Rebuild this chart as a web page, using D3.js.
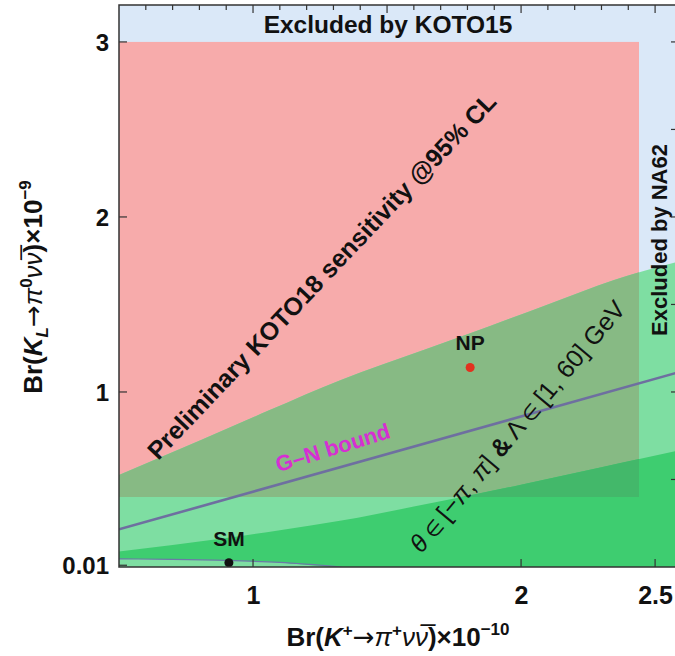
<!DOCTYPE html>
<html>
<head>
<meta charset="utf-8">
<script src="https://cdn.jsdelivr.net/npm/d3@7"></script>
<style>
  html, body { margin: 0; padding: 0; background: #ffffff; }
  svg { display: block; }
  text { font-family: "Liberation Sans", Arial, Helvetica, sans-serif; }
</style>
</head>
<body>
<svg id="chart" width="675" height="656"></svg>
<script>
// Br(K+ -> pi+ nu nubar) in units of 1e-10 (x) vs Br(K_L -> pi0 nu nubar) in units of 1e-9 (y)

// axis ticks
const xTickLabels = [1, 2, 2.5];
const yTickLabels = [0.01, 1, 2, 3];

// KOTO18 preliminary sensitivity box (K+ range, K_L range)
const koto18Kplus = [0.5, 2.44];
const koto18KL = [0.4, 3.0];

// outer allowed region (theta in [-pi, pi], Lambda in [1, 60] GeV): upper edge
const outerK = [0.5, 0.806, 1.06, 1.328, 1.478, 1.8, 2.1, 2.347, 2.6];
const outerTop = [0.526, 0.726, 0.895, 1.069, 1.154, 1.33, 1.5, 1.64, 1.75];

// inner band
const bandK = [0.5, 0.7, 0.9, 1.1, 1.33, 1.6, 2.0, 2.3, 2.6];
const bandTop = [0.088, 0.125, 0.165, 0.21, 0.265, 0.345, 0.47, 0.57, 0.67];
const bandBottom = [0.046, 0.044, 0.038, 0.026, 0.0, 0.0, 0.0, 0.0, 0.0];

// Grossman–Nir bound, Br(K_L) = 4.3 Br(K+)
const gnK = [0.5, 2.6];
const gnKL = [0.215, 1.118];

// benchmark points
const pointNames = ["SM", "NP"];
const pointK = [0.91, 1.81];
const pointKL = [0.024, 1.14];

const svg = d3.select("#chart");
const frame = { left: 119, right: 676, top: 5, bottom: 567 };

const x = d3.scaleLinear().domain([0.5, 2.578]).range([frame.left, frame.right]);
const y = d3.scaleLinear().domain([0, 3.211]).range([frame.bottom, frame.top]);

const defs = svg.append("defs");
defs.append("clipPath").attr("id", "clip-frame")
  .append("rect")
  .attr("x", frame.left).attr("y", frame.top)
  .attr("width", frame.right - frame.left).attr("height", frame.bottom - frame.top);
defs.append("clipPath").attr("id", "clip-koto")
  .append("rect")
  .attr("x", x(koto18Kplus[0])).attr("y", y(koto18KL[1]))
  .attr("width", x(koto18Kplus[1]) - x(koto18Kplus[0]))
  .attr("height", y(koto18KL[0]) - y(koto18KL[1]));

const plot = svg.append("g").attr("clip-path", "url(#clip-frame)");

// excluded background
plot.append("rect")
  .attr("x", frame.left).attr("y", frame.top)
  .attr("width", frame.right - frame.left).attr("height", frame.bottom - frame.top)
  .attr("fill", "#dae8f8");

// KOTO18 sensitivity
plot.append("rect")
  .attr("x", x(koto18Kplus[0])).attr("y", y(koto18KL[1]))
  .attr("width", x(koto18Kplus[1]) - x(koto18Kplus[0]))
  .attr("height", y(koto18KL[0]) - y(koto18KL[1]))
  .attr("fill", "#f7abab");

const outerArea = d3.area()
  .x((d, i) => x(outerK[i]))
  .y0(() => y(0))
  .y1((d, i) => y(outerTop[i]))
  .curve(d3.curveMonotoneX);

const bandArea = d3.area()
  .x((d, i) => x(bandK[i]))
  .y0((d, i) => y(bandBottom[i]))
  .y1((d, i) => y(bandTop[i]))
  .curve(d3.curveMonotoneX);

plot.append("path").attr("d", outerArea(outerK)).attr("fill", "#7edea2");
plot.append("path").attr("d", outerArea(outerK)).attr("fill", "#87ba84")
  .attr("clip-path", "url(#clip-koto)");

plot.append("path").attr("d", bandArea(bandK)).attr("fill", "#3ecd70");
plot.append("path").attr("d", bandArea(bandK)).attr("fill", "#43b86a")
  .attr("clip-path", "url(#clip-koto)");

// lower edge of the band
const edgeIdx = d3.range(0, 5);
plot.append("path")
  .attr("d", d3.line()
    .x(i => x(bandK[i]))
    .y(i => y(bandBottom[i]))
    .curve(d3.curveMonotoneX)(edgeIdx))
  .attr("fill", "none").attr("stroke", "#6a7aa6").attr("stroke-width", 1.2);

// Grossman–Nir bound line
plot.append("path")
  .attr("d", d3.line().x((d, i) => x(gnK[i])).y((d, i) => y(gnKL[i]))(gnK))
  .attr("fill", "none").attr("stroke", "#6e6fa0").attr("stroke-width", 2.6);

// benchmark points
const pointColors = ["#111111", "#e2321f"];
pointNames.forEach((n, i) => {
  plot.append("circle")
    .attr("cx", x(pointK[i])).attr("cy", y(pointKL[i])).attr("r", 4.5)
    .attr("fill", pointColors[i]);
  svg.append("text")
    .attr("x", x(pointK[i])).attr("y", y(pointKL[i]) - 17)
    .attr("text-anchor", "middle")
    .attr("font-size", 21).attr("font-weight", "bold").attr("fill", "#111")
    .text(n);
});

// region labels
svg.append("text")
  .attr("x", 388).attr("y", 33)
  .attr("text-anchor", "middle")
  .attr("font-size", 24.5).attr("font-weight", "bold").attr("fill", "#111")
  .text("Excluded by KOTO15");

svg.append("text")
  .attr("transform", "translate(667,240) rotate(-90)")
  .attr("text-anchor", "middle")
  .attr("font-size", 22).attr("font-weight", "bold").attr("fill", "#111")
  .text("Excluded by NA62");

svg.append("text")
  .attr("transform", "translate(328,282) rotate(-46.5)")
  .attr("text-anchor", "middle")
  .attr("font-size", 25).attr("font-weight", "bold").attr("fill", "#111")
  .text("Preliminary KOTO18 sensitivity @95% CL");

svg.append("text")
  .attr("transform", "translate(335,455) rotate(-17)")
  .attr("text-anchor", "middle")
  .attr("font-size", 22).attr("font-weight", "bold").attr("fill", "#d62fd2")
  .text("G\u2013N bound");

const scan = svg.append("text")
  .attr("transform", "translate(524,432) rotate(-50)")
  .attr("text-anchor", "middle")
  .attr("font-size", 25).attr("fill", "#111");
scan.append("tspan").attr("font-style", "italic").text("\u03b8");
scan.append("tspan").attr("font-size", 20).text(" \u2208 ");
scan.append("tspan").text("[\u2212");
scan.append("tspan").attr("font-style", "italic").text("\u03c0");
scan.append("tspan").text(", ");
scan.append("tspan").attr("font-style", "italic").text("\u03c0");
scan.append("tspan").text("] ");
scan.append("tspan").attr("font-weight", "bold").text("&");
scan.append("tspan").text(" \u039b");
scan.append("tspan").attr("font-size", 20).text(" \u2208 ");
scan.append("tspan").text("[1, 60] GeV");

// axes
const xAxisBottom = d3.axisBottom(x).tickValues(xTickLabels).tickSize(0).tickPadding(0)
  .tickFormat(d3.format("~g"));
const gx = svg.append("g").attr("transform", `translate(0,${frame.bottom})`).call(xAxisBottom);
gx.select(".domain").remove();
gx.selectAll("text").attr("dy", null).attr("y", 37)
  .attr("font-size", 25).attr("font-weight", "bold").attr("fill", "#111")
  .attr("font-family", "Liberation Sans, Arial, sans-serif");

const yAxisLeft = d3.axisLeft(y).tickValues(yTickLabels).tickSize(0).tickPadding(0)
  .tickFormat(d => d === 0.01 ? "0.01" : d3.format("~g")(d));
const gy = svg.append("g").attr("transform", `translate(${frame.left},0)`).call(yAxisLeft);
gy.select(".domain").remove();
gy.selectAll("text").attr("x", -10).attr("dy", "0.36em")
  .attr("font-size", 24).attr("font-weight", "bold").attr("fill", "#111")
  .attr("font-family", "Liberation Sans, Arial, sans-serif");

// tick marks drawn inside the frame
const tickG = svg.append("g").attr("stroke", "#333").attr("stroke-width", 1.2);
const minorX = d3.range(6, 26).map(v => v / 10);
minorX.forEach(v => {
  const major = Math.abs(v * 2 - Math.round(v * 2)) < 1e-9;
  tickG.append("line")
    .attr("x1", x(v)).attr("x2", x(v))
    .attr("y1", frame.top).attr("y2", frame.top + (major ? 8 : 5));
});
xTickLabels.forEach(v => {
  tickG.append("line").attr("x1", x(v)).attr("x2", x(v))
    .attr("y1", frame.bottom).attr("y2", frame.bottom - 8);
});
yTickLabels.forEach(v => {
  tickG.append("line").attr("x1", frame.left).attr("x2", frame.left + 8)
    .attr("y1", y(v)).attr("y2", y(v));
});
d3.range(1, 7).map(v => v / 2).forEach(v => {
  tickG.append("line").attr("x1", frame.right).attr("x2", frame.right - 5)
    .attr("y1", y(v)).attr("y2", y(v));
});

// frame
svg.append("rect")
  .attr("x", frame.left).attr("y", frame.top)
  .attr("width", frame.right - frame.left).attr("height", frame.bottom - frame.top)
  .attr("fill", "none").attr("stroke", "#333").attr("stroke-width", 1.5);

// axis titles
const xt = svg.append("text")
  .attr("x", 398).attr("y", 646)
  .attr("text-anchor", "middle")
  .attr("font-size", 26).attr("font-weight", "bold").attr("fill", "#111");
xt.append("tspan").text("Br(");
xt.append("tspan").attr("font-style", "italic").text("K");
xt.append("tspan").attr("font-size", 17).attr("dy", -10).text("+");
xt.append("tspan").attr("dy", 10).attr("font-family", "DejaVu Sans").attr("font-weight", "normal").text("\u2192");
xt.append("tspan").attr("font-style", "italic").attr("font-weight", "normal").text("\u03c0");
xt.append("tspan").attr("font-size", 17).attr("dy", -10).text("+");
xt.append("tspan").attr("dy", 10).attr("font-style", "italic").attr("font-weight", "normal").text("\u03bd\u03bd\u0305");
xt.append("tspan").text(")\u00d710");
xt.append("tspan").attr("font-size", 17).attr("dy", -11).text("\u221210");

const yt = svg.append("text")
  .attr("transform", "translate(42,287) rotate(-90)")
  .attr("text-anchor", "middle")
  .attr("font-size", 26).attr("font-weight", "bold").attr("fill", "#111");
yt.append("tspan").text("Br(");
yt.append("tspan").attr("font-style", "italic").text("K");
yt.append("tspan").attr("font-size", 17).attr("dy", 6).attr("font-style", "italic").text("L");
yt.append("tspan").attr("dy", -6).attr("font-family", "DejaVu Sans").attr("font-weight", "normal").text("\u2192");
yt.append("tspan").attr("font-style", "italic").attr("font-weight", "normal").text("\u03c0");
yt.append("tspan").attr("font-size", 17).attr("dy", -10).text("0");
yt.append("tspan").attr("dy", 10).attr("font-style", "italic").attr("font-weight", "normal").text("\u03bd\u03bd\u0305");
yt.append("tspan").text(")\u00d710");
yt.append("tspan").attr("font-size", 17).attr("dy", -11).text("\u22129");
</script>
</body>
</html>
